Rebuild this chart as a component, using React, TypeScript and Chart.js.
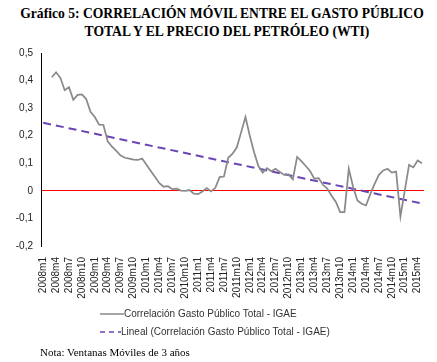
import React, { useEffect, useRef } from "react";
import { Chart, registerables } from "chart.js";

Chart.register(...registerables);

const meses: string[] = [
  "2008m1","2008m2","2008m3","2008m4","2008m5","2008m6","2008m7","2008m8","2008m9","2008m10","2008m11","2008m12",
  "2009m1","2009m2","2009m3","2009m4","2009m5","2009m6","2009m7","2009m8","2009m9","2009m10","2009m11","2009m12",
  "2010m1","2010m2","2010m3","2010m4","2010m5","2010m6","2010m7","2010m8","2010m9","2010m10","2010m11","2010m12",
  "2011m1","2011m2","2011m3","2011m4","2011m5","2011m6","2011m7","2011m8","2011m9","2011m10","2011m11","2011m12",
  "2012m1","2012m2","2012m3","2012m4","2012m5","2012m6","2012m7","2012m8","2012m9","2012m10","2012m11","2012m12",
  "2013m1","2013m2","2013m3","2013m4","2013m5","2013m6","2013m7","2013m8","2013m9","2013m10","2013m11","2013m12",
  "2014m1","2014m2","2014m3","2014m4","2014m5","2014m6","2014m7","2014m8","2014m9","2014m10","2014m11","2014m12",
  "2015m1","2015m2","2015m3","2015m4","2015m5",
];

const correlacion: (number | null)[] = [
  null, null, 0.412, 0.43, 0.41, 0.365, 0.376, 0.33, 0.348, 0.35, 0.333, 0.287,
  0.268, 0.24, 0.239, 0.18, 0.16, 0.145, 0.128, 0.12, 0.117, 0.113, 0.112, 0.117,
  0.095, 0.072, 0.05, 0.028, 0.015, 0.017, 0.006, 0.008, 0.001, 0.0, 0.003, -0.01,
  -0.012, -0.002, 0.01, -0.002, 0.011, 0.05, 0.052, 0.12, 0.135, 0.158, 0.213, 0.268,
  0.2, 0.14, 0.09, 0.066, 0.082, 0.071, 0.08, 0.068, 0.058, 0.06, 0.042, 0.123,
  0.108, 0.09, 0.072, 0.044, 0.046, 0.022, 0.008, -0.018, -0.04, -0.077, -0.077, 0.08,
  0.015, -0.035, -0.047, -0.053, -0.012, 0.025, 0.058, 0.074, 0.08, 0.066, 0.07, -0.093,
  0.0, 0.094, 0.085, 0.11, 0.1,
];

const tendenciaInicio = 0.247;
const tendenciaFin = -0.046;

const yMin = -0.2;
const yMax = 0.5;
const yStep = 0.1;

const serie1 = "Correlación Gasto Público Total - IGAE";
const serie2 = "Lineal (Correlación Gasto Público Total - IGAE)";

const SANS = "'Liberation Sans', Arial, sans-serif";
const SERIF = "'Liberation Serif', 'Times New Roman', serif";

export default function App() {
  const ref = useRef<HTMLCanvasElement | null>(null);

  useEffect(() => {
    if (!ref.current) return;
    const chart = new Chart(ref.current, {
      type: "line",
      data: {
        labels: meses,
        datasets: [
          {
            label: serie1,
            data: correlacion,
            borderColor: "#8a8a8a",
            borderWidth: 1.75,
            pointRadius: 0,
            tension: 0,
            spanGaps: false,
          },
          {
            label: serie2,
            data: [
              { x: meses[0], y: tendenciaInicio },
              { x: meses[meses.length - 1], y: tendenciaFin },
            ] as any,
            borderColor: "#6A45B5",
            borderWidth: 2,
            borderDash: [8, 5],
            pointRadius: 0,
          },
        ],
      },
      options: {
        animation: false,
        responsive: false,
        maintainAspectRatio: false,
        layout: { padding: { top: 53, left: 0, right: 7, bottom: 56 } },
        plugins: {
          legend: { display: false },
          title: { display: false },
          tooltip: { enabled: false },
        },
        scales: {
          x: {
            type: "category",
            offset: true,
            grid: { display: false },
            border: { display: false },
            ticks: {
              autoSkip: false,
              maxRotation: 90,
              minRotation: 90,
              padding: 3,
              color: "#222",
              font: { family: SANS, size: 10 },
              callback: (_v: any, i: number) => (i % 3 === 0 ? meses[i] : ""),
            },
            afterFit: (s: any) => {
              s.height = 60;
            },
          },
          y: {
            min: yMin,
            max: yMax,
            ticks: {
              stepSize: yStep,
              padding: 8,
              color: "#222",
              font: { family: SANS, size: 10 },
              callback: (v: any) => {
                const n = Math.round(Number(v) * 10) / 10;
                return n === 0 ? "0" : String(n).replace(".", ",");
              },
            },
            grid: {
              drawTicks: false,
              lineWidth: 1,
              color: (ctx: any) =>
                ctx.tick && Math.abs(ctx.tick.value) < 1e-6 ? "#ff0000" : "rgba(0,0,0,0)",
            },
            border: { display: true, color: "#000", width: 1 },
            afterFit: (s: any) => {
              s.width = 41;
            },
          },
        },
      },
    });
    return () => chart.destroy();
  }, []);

  return (
    <div style={{ position: "absolute", left: 0, top: 0, width: 437, height: 362, background: "#fff", overflow: "hidden" }}>
      <div style={{ position: "absolute", left: 0, top: 5, width: 437, textAlign: "center", fontFamily: SERIF, fontWeight: "bold", fontSize: 13.6, lineHeight: "18px", color: "#000" }}>
        <div style={{ paddingLeft: 7, whiteSpace: "nowrap" }}>Gráfico 5: CORRELACIÓN MÓVIL ENTRE EL GASTO PÚBLICO</div>
        <div style={{ paddingLeft: 17, whiteSpace: "nowrap" }}>TOTAL Y EL PRECIO DEL PETRÓLEO (WTI)</div>
      </div>
      <canvas ref={ref} width={437} height={362} style={{ position: "absolute", left: 0, top: 0, width: 437, height: 362 }} />
      <div style={{ position: "absolute", left: 100, top: 306, fontFamily: SANS, fontSize: 10, color: "#333", lineHeight: "16px", whiteSpace: "nowrap" }}>
        <div style={{ display: "flex", alignItems: "center", height: 16 }}>
          <svg width={24} height={4} style={{ display: "block" }}>
            <line x1={0} y1={2} x2={24} y2={2} stroke="#888888" strokeWidth={1.5} />
          </svg>
          <span>{serie1}</span>
        </div>
        <div style={{ display: "flex", alignItems: "center", height: 16, marginTop: 2 }}>
          <svg width={21} height={4} style={{ display: "block" }}>
            <line x1={0} y1={2} x2={21} y2={2} stroke="#6A45B5" strokeWidth={1.5} strokeDasharray="5,4" />
          </svg>
          <span>{serie2}</span>
        </div>
      </div>
      <div style={{ position: "absolute", left: 40, top: 346, fontFamily: SERIF, fontSize: 11, color: "#000", whiteSpace: "nowrap" }}>
        Nota: Ventanas Móviles de 3 años
      </div>
    </div>
  );
}
